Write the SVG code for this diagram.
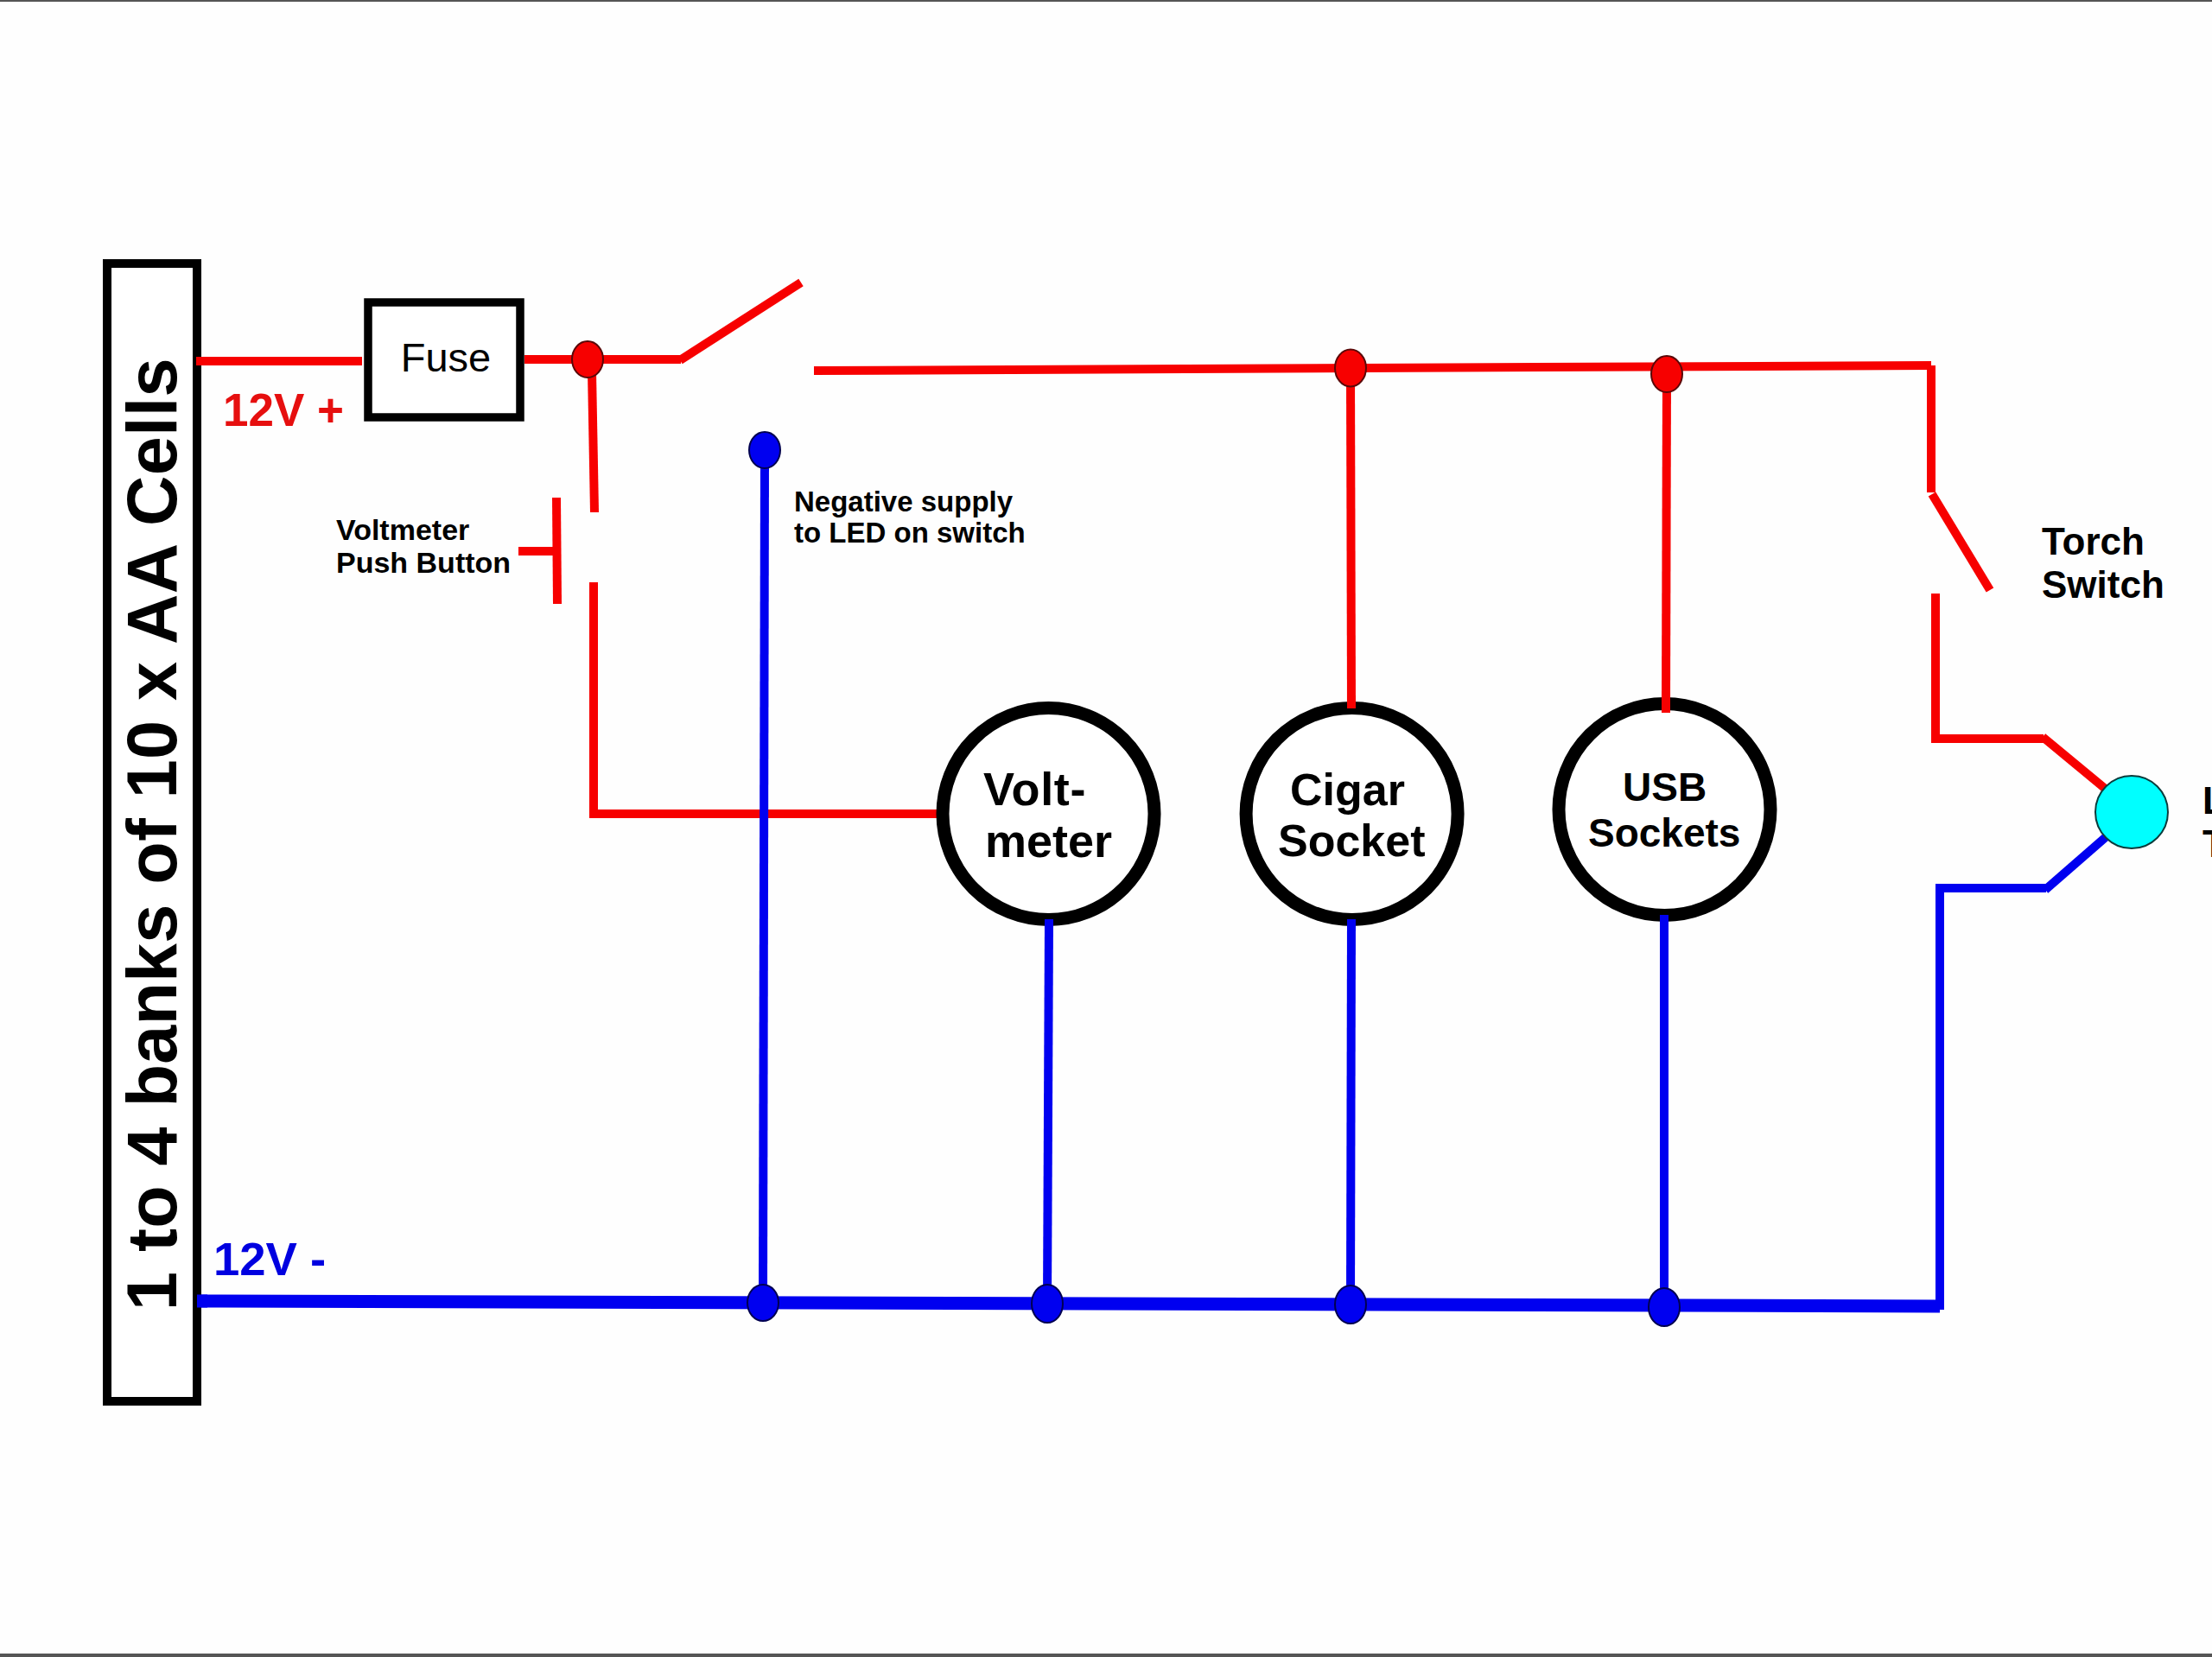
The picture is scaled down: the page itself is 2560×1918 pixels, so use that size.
<svg xmlns="http://www.w3.org/2000/svg" width="2560" height="1918" viewBox="0 0 2560 1918">
<style>
text{font-family:"Liberation Sans",Arial,sans-serif;font-weight:700;fill:#000}
.r{stroke:#f70000;fill:none;stroke-width:10}
.b{stroke:#0000f0;fill:none;stroke-width:10}
.rd{fill:#f70000;stroke:#5a0808;stroke-width:2}
.bd{fill:#0000f0;stroke:#000050;stroke-width:2}
.c{fill:#fff;stroke:#000;stroke-width:15}
</style>
<rect width="2560" height="1918" fill="#fefefe"/>
<rect id="frame-top" x="0" y="0" width="2560" height="2" fill="#555"/>
<rect id="frame-bottom" x="0" y="1914" width="2560" height="4" fill="#555"/>
<g id="connectors">
<line class="r" x1="227" y1="418" x2="419" y2="418"/>
<line class="r" x1="607" y1="416" x2="788" y2="416"/>
<line class="r" x1="787" y1="417" x2="927" y2="327"/>
<line class="r" x1="942" y1="429" x2="2235" y2="423"/>
<path class="r" d="M2235 423V570"/>
<line class="r" x1="2236" y1="572" x2="2303" y2="683"/>
<path class="r" d="M2240 687V855H2365"/>
<line class="r" x1="2364" y1="853" x2="2445" y2="920"/>
<line class="r" x1="685" y1="430" x2="688" y2="593"/>
<path class="r" d="M687 674V942H1087"/>
<line class="r" x1="644" y1="576" x2="645" y2="699"/>
<line class="r" x1="600" y1="638" x2="645" y2="638"/>
<line class="r" x1="1563" y1="430" x2="1564" y2="820"/>
<line class="r" x1="1929" y1="430" x2="1928" y2="825"/>
<line class="b" x1="228" y1="1506" x2="2245" y2="1512" style="stroke-width:15"/>
<line class="b" x1="885" y1="530" x2="883" y2="1508"/>
<line class="b" x1="1214" y1="1064" x2="1212" y2="1509"/>
<line class="b" x1="1564" y1="1064" x2="1563" y2="1510"/>
<line class="b" x1="1926" y1="1059" x2="1926" y2="1513"/>
<path class="b" d="M2245 1516V1028H2368"/>
<line class="b" x1="2367" y1="1030" x2="2445" y2="962"/>
</g>
<g id="battery">
<rect x="124" y="305" width="104" height="1317" fill="#fff" stroke="#000" stroke-width="10"/>
<line class="r" x1="227" y1="418" x2="240" y2="418"/>
<line class="b" x1="228" y1="1506" x2="240" y2="1506" style="stroke-width:15"/>
<text transform="translate(204 1517) rotate(-90)" font-size="81" letter-spacing="0.2">1 to 4 banks of 10 x AA Cells</text>
</g>
<g id="fuse">
<rect x="426" y="350" width="176" height="133" fill="#fff" stroke="#000" stroke-width="9.5"/>
<text x="516" y="430" font-size="47" text-anchor="middle" style="font-weight:400">Fuse</text>
</g>
<g id="voltmeter">
<circle class="c" cx="1213.5" cy="942" r="122.5"/>
<line class="b" x1="1214" y1="1064" x2="1214" y2="1074"/>
<text x="1138" y="932" font-size="54" letter-spacing="0.6">Volt-</text>
<text x="1140" y="992" font-size="54">meter</text>
</g>
<g id="cigar-socket">
<circle class="c" cx="1564.6" cy="942" r="122.5"/>
<line class="r" x1="1564" y1="805" x2="1564" y2="820"/>
<line class="b" x1="1564" y1="1064" x2="1564" y2="1074"/>
<text x="1493" y="932" font-size="52">Cigar</text>
<text x="1479" y="991" font-size="52">Socket</text>
</g>
<g id="usb-sockets">
<circle class="c" cx="1926.5" cy="937" r="122.5"/>
<line class="r" x1="1928" y1="800" x2="1928" y2="825"/>
<line class="b" x1="1926" y1="1059" x2="1926" y2="1069"/>
<text x="1878" y="927" font-size="46">USB</text>
<text x="1838" y="980" font-size="46">Sockets</text>
</g>
<g id="led">
<circle cx="2467" cy="940" r="42" fill="#00ffff" stroke="#0c3c3c" stroke-width="2"/>
<text x="2549" y="942" font-size="44">L</text>
<text x="2549" y="992" font-size="44">T</text>
</g>
<g id="junctions">
<ellipse class="rd" cx="680" cy="416" rx="18" ry="21"/>
<ellipse class="rd" cx="1563" cy="426" rx="18" ry="21.5"/>
<ellipse class="rd" cx="1929" cy="433" rx="18" ry="21"/>
<ellipse class="bd" cx="885" cy="521" rx="18" ry="21"/>
<ellipse class="bd" cx="883" cy="1508" rx="18" ry="21"/>
<ellipse class="bd" cx="1212" cy="1509" rx="18" ry="22"/>
<ellipse class="bd" cx="1563" cy="1510" rx="18" ry="22"/>
<ellipse class="bd" cx="1926" cy="1513" rx="18" ry="22"/>
</g>
<g id="labels">
<text x="258" y="493" font-size="53" style="fill:#e60f0f">12V +</text>
<text x="247" y="1476" font-size="54.5" style="fill:#0000e0">12V -</text>
<text x="389" y="625" font-size="34">Voltmeter</text>
<text x="389" y="663" font-size="34">Push Button</text>
<text x="919" y="592" font-size="33">Negative supply</text>
<text x="919" y="628" font-size="33">to LED on switch</text>
<text x="2363" y="642" font-size="44">Torch</text>
<text x="2363" y="692" font-size="44">Switch</text>
</g>
</svg>
